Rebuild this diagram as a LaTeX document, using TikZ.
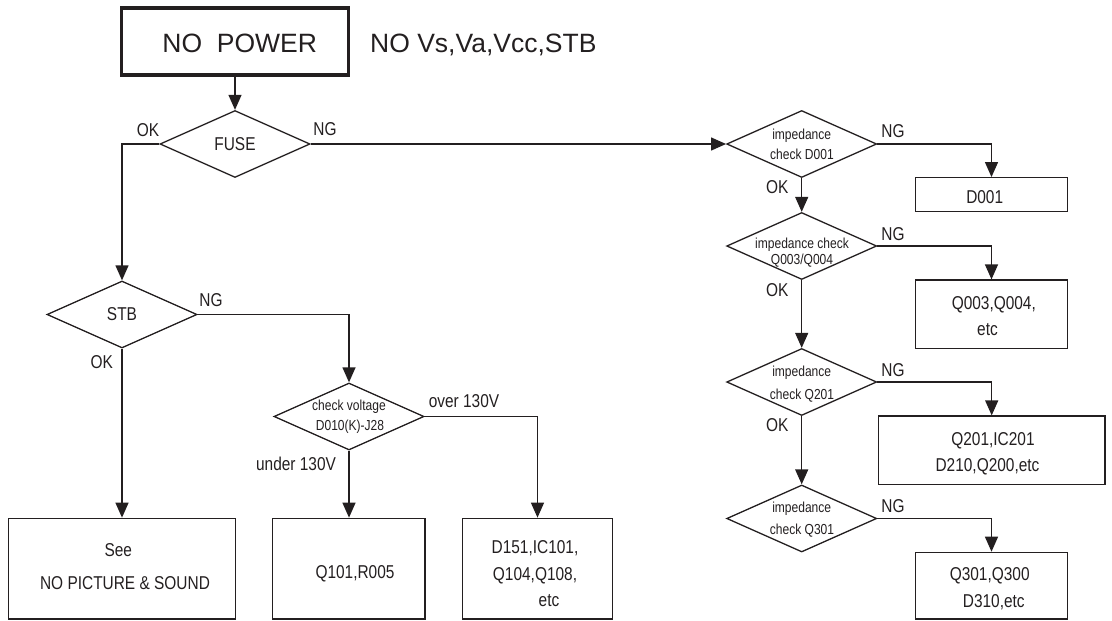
\documentclass[tikz,border=0pt]{standalone}
\usepackage{fontspec}
\setmainfont{Liberation Sans}
\newfontfamily\narrowfont[FakeStretch=0.83]{Liberation Sans}
\usetikzlibrary{shapes.geometric,arrows.meta}
\definecolor{ink}{HTML}{231F20}
\begin{document}
\begin{tikzpicture}[x=1pt,y=-1pt,
  line/.style={draw=ink,line width=1.3pt},
  arr/.style={line,-{Triangle[width=13pt,length=15pt]}},
  dia/.style={diamond,draw=ink,line width=1.3pt,minimum width=150pt,minimum height=67pt,inner sep=0pt},
  box/.style={rectangle,draw=ink,line width=1.3pt,inner sep=0pt},
  lbl/.style={inner sep=0pt,anchor=base,text=ink,font=\narrowfont\fontsize{18.6}{20}\selectfont},
  small/.style={lbl,font=\narrowfont\fontsize{14.5}{16}\selectfont},
  big/.style={inner sep=0pt,anchor=base,text=ink,font=\fontsize{26.5}{30}\selectfont}]
\useasboundingbox (0,0) rectangle (1112,621);

% title
\node[box,line width=3.5pt,minimum width=227pt,minimum height=67pt] (np) at (235,41.7) {};
\node[big] (np-t) at (239.7,52) {NO~~POWER};
\node[big,anchor=base west] (np-n) at (370,52) {NO Vs,Va,Vcc,STB};

% diamonds
\node[dia] (fuse) at (235,144) {};
\node[lbl] (fuse-t) at (235,150.7) {FUSE};
\node[dia] (stb) at (122,314.5) {};
\node[lbl] (stb-t) at (122,320) {STB};
\node[dia] (cv) at (349,416.5) {};
\node[small] (cv-t1) at (349,410.7) {check voltage};
\node[small] (cv-t2) at (350,430.7) {D010(K)-J28};
\node[dia] (d1) at (801.7,144) {};
\node[small] (d1-t1) at (801.7,139.3) {impedance};
\node[small] (d1-t2) at (802,159.3) {check D001};
\node[dia] (d2) at (801.7,246) {};
\node[small] (d2-t1) at (802,248.3) {impedance check};
\node[small] (d2-t2) at (802,264) {Q003/Q004};
\node[dia] (d3) at (801.7,382) {};
\node[small] (d3-t1) at (801.7,376.7) {impedance};
\node[small] (d3-t2) at (802,399.3) {check Q201};
\node[dia] (d4) at (801.7,518.5) {};
\node[small] (d4-t1) at (801.7,512.7) {impedance};
\node[small] (d4-t2) at (802,534) {check Q301};

% result boxes
\node[box,minimum width=227.4pt,minimum height=100.7pt] (see) at (122,568.65) {};
\node[lbl] (see-t1) at (118.3,556) {See};
\node[lbl] (see-t2) at (125,589.3) {NO PICTURE \& SOUND};
\node[box,minimum width=152.3pt,minimum height=100.7pt] (q101) at (348.9,568.65) {};
\node[lbl] (q101-t) at (355,578.3) {Q101,R005};
\node[box,minimum width=150.4pt,minimum height=100.7pt] (d151) at (537.5,568.65) {};
\node[lbl] (d151-t1) at (535,553.3) {D151,IC101,};
\node[lbl] (d151-t2) at (535,580) {Q104,Q108,};
\node[lbl] (d151-t3) at (549,606) {etc};
\node[box,minimum width=151.6pt,minimum height=34pt] (b1) at (991.5,194.7) {};
\node[lbl] (b1-t) at (984.7,203.3) {D001};
\node[box,minimum width=151.6pt,minimum height=68.3pt] (b2) at (991.5,314.2) {};
\node[lbl] (b2-t1) at (993.8,309.3) {Q003,Q004,};
\node[lbl] (b2-t2) at (987.5,335) {etc};
\node[box,minimum width=226.7pt,minimum height=68.3pt] (b3) at (991.7,450.2) {};
\node[lbl] (b3-t1) at (993,445) {Q201,IC201};
\node[lbl] (b3-t2) at (987.5,471.7) {D210,Q200,etc};
\node[box,minimum width=151.6pt,minimum height=66.7pt] (b4) at (991.5,585.7) {};
\node[lbl] (b4-t1) at (989.7,580.7) {Q301,Q300};
\node[lbl] (b4-t2) at (993.8,607.3) {D310,etc};

% branch labels
\node[lbl] (l1) at (148,136.7) {OK};
\node[lbl] (l2) at (325,135) {NG};
\node[lbl] (l3) at (211,306.7) {NG};
\node[lbl] (l4) at (101.7,368.3) {OK};
\node[lbl] (l5) at (464,407.3) {over 130V};
\node[lbl] (l6) at (296,470.7) {under 130V};
\node[lbl] (l7) at (893,137.5) {NG};
\node[lbl] (l8) at (777.3,193.3) {OK};
\node[lbl] (l9) at (893,240) {NG};
\node[lbl] (l10) at (777.3,296) {OK};
\node[lbl] (l11) at (893,376.5) {NG};
\node[lbl] (l12) at (777.3,431.7) {OK};
\node[lbl] (l13) at (893,512.7) {NG};

% connectors
\draw[arr] (np.south) -- (fuse.north);
\draw[arr] (fuse.west) -| (stb.north);
\draw[arr] (fuse.east) -- (d1.west);
\draw[arr] (stb.east) -| (cv.north);
\draw[arr] (stb.south) -- (see.north);
\draw[arr] (cv.south) -- (cv.south |- q101.north);
\draw[arr] (cv.east) -| (d151.north);
\draw[arr] (d1.east) -| (b1.north);
\draw[arr] (d1.south) -- (d2.north);
\draw[arr] (d2.east) -| (b2.north);
\draw[arr] (d2.south) -- (d3.north);
\draw[arr] (d3.east) -| (b3.north);
\draw[arr] (d3.south) -- (d4.north);
\draw[arr] (d4.east) -| (b4.north);
\end{tikzpicture}
\end{document}
